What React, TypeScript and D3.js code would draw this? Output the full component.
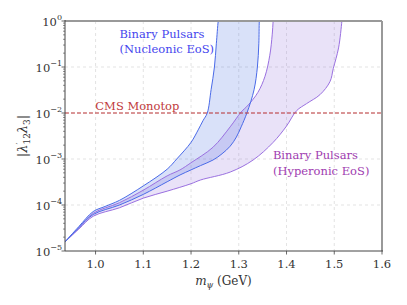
import React, { useEffect, useRef } from "react";
import * as d3 from "d3";

// Nucleonic EoS band (blue)
const nucMassUpper = [0.936, 0.965, 0.995, 1.02, 1.05, 1.1, 1.15, 1.17, 1.2, 1.215, 1.225, 1.234, 1.242, 1.249, 1.253, 1.257, 1.259];
const nucLamUpper = [1.58e-5, 3.4e-5, 7.2e-5, 9.3e-5, 1.26e-4, 2.6e-4, 6.0e-4, 1.0e-3, 2.3e-3, 4.3e-3, 6.8e-3, 1.0e-2, 3.2e-2, 0.1, 0.32, 1.0, 1.3];
const nucMassLower = [0.936, 0.965, 0.995, 1.05, 1.1, 1.15, 1.177, 1.2, 1.22, 1.246, 1.265, 1.282, 1.295, 1.305, 1.317, 1.332, 1.339, 1.342, 1.343, 1.344];
const nucLamLower = [1.58e-5, 3.2e-5, 6.2e-5, 1.0e-4, 1.7e-4, 3.2e-4, 4.5e-4, 5.8e-4, 7.2e-4, 9.5e-4, 1.3e-3, 1.9e-3, 3.0e-3, 5.0e-3, 1.0e-2, 3.2e-2, 0.1, 0.32, 1.0, 1.3];

// Hyperonic EoS band (purple)
const hypMassUpper = [0.936, 0.965, 0.995, 1.05, 1.1, 1.15, 1.177, 1.2, 1.246, 1.282, 1.305, 1.32, 1.34, 1.355, 1.365, 1.37, 1.372, 1.373];
const hypLamUpper = [1.58e-5, 3.2e-5, 6.6e-5, 1.12e-4, 2.1e-4, 4.3e-4, 5.8e-4, 8.3e-4, 1.8e-3, 5.0e-3, 1.05e-2, 1.5e-2, 2.8e-2, 6.3e-2, 0.18, 0.5, 1.0, 1.3];
const hypMassLower = [0.936, 0.965, 0.995, 1.05, 1.1, 1.15, 1.2, 1.22, 1.282, 1.33, 1.372, 1.4, 1.421, 1.442, 1.47, 1.491, 1.498, 1.509, 1.516, 1.517];
const hypLamLower = [1.58e-5, 3.0e-5, 5.7e-5, 8.7e-5, 1.41e-4, 2.0e-4, 2.9e-4, 3.5e-4, 5.2e-4, 9.5e-4, 2.3e-3, 5.2e-3, 1.12e-2, 1.6e-2, 2.5e-2, 4.8e-2, 9.3e-2, 0.26, 1.0, 1.3];

const cmsLimit = 1e-2;

const xTicks = [1.0, 1.1, 1.2, 1.3, 1.4, 1.5, 1.6];
const yTickExps = [0, -1, -2, -3, -4, -5];

export default function App() {
  const svgRef = useRef<SVGSVGElement>(null);

  useEffect(() => {
    const width = 407;
    const height = 305;
    const left = 65, right = 382, top = 21, bottom = 251;
    const serif = '"DejaVu Serif", serif';

    const x = d3.scaleLinear().domain([0.936, 1.6]).range([left, right]);
    const y = d3.scaleLog().domain([1e-5, 1]).range([bottom, top]);

    const svg = d3.select(svgRef.current)
      .attr("width", width)
      .attr("height", height)
      .attr("viewBox", [0, 0, width, height].join(" "))
      .style("font-family", serif);
    svg.selectAll("*").remove();

    svg.append("defs").append("clipPath").attr("id", "plot-clip")
      .append("rect")
      .attr("x", left).attr("y", top)
      .attr("width", right - left).attr("height", bottom - top);

    // grid
    const grid = svg.append("g")
      .attr("stroke", "#dcdcdc")
      .attr("stroke-width", 0.8)
      .attr("stroke-dasharray", "3,3");
    xTicks.slice(0, -1).forEach(t => {
      grid.append("line").attr("x1", x(t)).attr("x2", x(t)).attr("y1", top).attr("y2", bottom);
    });
    yTickExps.slice(1, -1).forEach(e => {
      grid.append("line").attr("x1", left).attr("x2", right).attr("y1", y(10 ** e)).attr("y2", y(10 ** e));
    });

    const line = d3.line<[number, number]>()
      .x(d => x(d[0]))
      .y(d => y(d[1]))
      .curve(d3.curveCatmullRom.alpha(0.5));

    const zip = (ms: number[], ls: number[]) => ms.map((m, i) => [m, ls[i]] as [number, number]);

    const plot = svg.append("g").attr("clip-path", "url(#plot-clip)");

    const bands = [
      { up: zip(hypMassUpper, hypLamUpper), lo: zip(hypMassLower, hypLamLower), fill: "#9370db", stroke: "#9a70e0" },
      { up: zip(nucMassUpper, nucLamUpper), lo: zip(nucMassLower, nucLamLower), fill: "#4169e1", stroke: "#4a6ae8" },
    ];

    bands.forEach(b => {
      const polygon = b.up.concat(b.lo.slice().reverse());
      plot.append("path")
        .attr("d", line(polygon) + "Z")
        .attr("fill", b.fill)
        .attr("fill-opacity", 0.2)
        .attr("stroke", "none");
    });
    bands.forEach(b => {
      [b.up, b.lo].forEach(pts => {
        plot.append("path")
          .attr("d", line(pts))
          .attr("fill", "none")
          .attr("stroke", b.stroke)
          .attr("stroke-width", 1);
      });
    });

    // CMS monotop limit
    plot.append("line")
      .attr("x1", left).attr("x2", right)
      .attr("y1", y(cmsLimit)).attr("y2", y(cmsLimit))
      .attr("stroke", "#c0393b")
      .attr("stroke-width", 1)
      .attr("stroke-dasharray", "4,2");

    // frame
    svg.append("line").attr("x1", left).attr("x2", right).attr("y1", top).attr("y2", top)
      .attr("stroke", "#999").attr("stroke-width", 2);
    svg.append("line").attr("x1", right).attr("x2", right).attr("y1", top).attr("y2", bottom)
      .attr("stroke", "#999").attr("stroke-width", 2);
    svg.append("line").attr("x1", left).attr("x2", left).attr("y1", top - 1).attr("y2", bottom)
      .attr("stroke", "#444").attr("stroke-width", 1);
    svg.append("line").attr("x1", left).attr("x2", right + 1).attr("y1", bottom).attr("y2", bottom)
      .attr("stroke", "#444").attr("stroke-width", 1);

    // x ticks
    const xAxis = svg.append("g").style("font-size", "11.5px").attr("fill", "#333");
    xTicks.forEach(t => {
      xAxis.append("line").attr("x1", x(t)).attr("x2", x(t)).attr("y1", bottom).attr("y2", bottom + 3.5)
        .attr("stroke", "#444").attr("stroke-width", 0.8);
      xAxis.append("text").attr("x", x(t)).attr("y", bottom + 17)
        .attr("text-anchor", "middle").text(t.toFixed(1));
    });

    // y ticks
    const yAxis = svg.append("g").attr("fill", "#333");
    yTickExps.forEach(e => {
      const yy = y(10 ** e);
      yAxis.append("line").attr("x1", left - 3.5).attr("x2", left).attr("y1", yy).attr("y2", yy)
        .attr("stroke", "#444").attr("stroke-width", 0.8);
      const label = yAxis.append("text").attr("x", left - 3).attr("y", yy + 5)
        .attr("text-anchor", "end").style("font-size", "11.5px");
      label.append("tspan").text("10");
      label.append("tspan").style("font-size", "8px").attr("dy", -6)
        .text(e === 0 ? "0" : "\u2212" + Math.abs(e));
    });
    // minor ticks
    for (let e = -5; e < 0; e++) {
      for (let k = 2; k <= 9; k++) {
        const yy = y(k * 10 ** e);
        yAxis.append("line").attr("x1", left - 2).attr("x2", left).attr("y1", yy).attr("y2", yy)
          .attr("stroke", "#444").attr("stroke-width", 0.6);
      }
    }

    // axis labels
    const xl = svg.append("text")
      .attr("x", (left + right) / 2).attr("y", 285)
      .attr("text-anchor", "middle")
      .style("font-size", "12px").attr("fill", "#333");
    xl.append("tspan").style("font-style", "italic").text("m");
    xl.append("tspan").style("font-style", "italic").style("font-size", "8.5px").attr("dy", 3).text("\u03c8");
    xl.append("tspan").attr("dy", -3).text(" (GeV)");

    const yl = svg.append("text")
      .attr("transform", `translate(27,${(top + bottom) / 2}) rotate(-90)`)
      .attr("text-anchor", "middle")
      .style("font-size", "13px").attr("fill", "#333");
    yl.append("tspan").text("|");
    yl.append("tspan").style("font-style", "italic").text("\u03bb");
    yl.append("tspan").style("font-size", "9px").attr("dy", -4).text("\u2032");
    yl.append("tspan").style("font-size", "9px").attr("dy", 7).attr("dx", -2).text("12");
    yl.append("tspan").style("font-style", "italic").attr("dy", -3).text("\u03bb");
    yl.append("tspan").style("font-size", "9px").attr("dy", 3).text("3");
    yl.append("tspan").attr("dy", -3).text("|");

    // annotations
    const ann = svg.append("g").style("font-size", "11.5px");
    const nuc = ann.append("text").attr("fill", "#4545ee");
    nuc.append("tspan").attr("x", x(1.05)).attr("y", 38).text("Binary Pulsars");
    nuc.append("tspan").attr("x", x(1.05)).attr("y", 53).text("(Nucleonic EoS)");

    const hyp = ann.append("text").attr("fill", "#a03cb0");
    hyp.append("tspan").attr("x", x(1.3715)).attr("y", 159).text("Binary Pulsars");
    hyp.append("tspan").attr("x", x(1.3715)).attr("y", 175).text("(Hyperonic EoS)");

    ann.append("text").attr("fill", "#c0393b").attr("x", x(0.9995)).attr("y", 110).text("CMS Monotop");

    return () => {
      d3.select(svgRef.current).selectAll("*").remove();
    };
  }, []);

  return (
    <div style={{ position: "absolute", left: 0, top: 0, background: "#fff" }}>
      <svg ref={svgRef} style={{ display: "block" }} />
    </div>
  );
}
